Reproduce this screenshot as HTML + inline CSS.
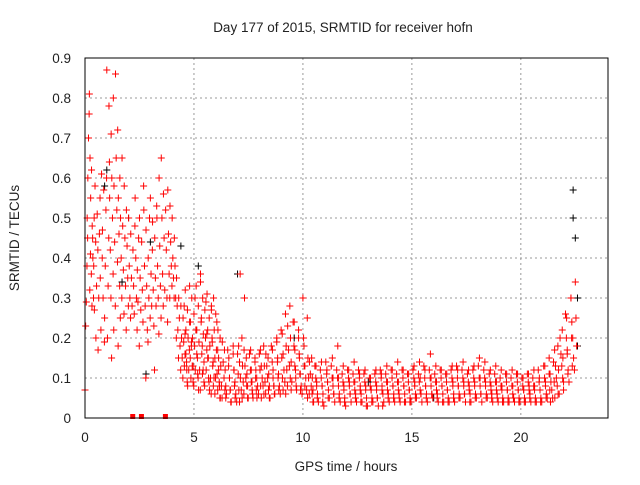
<!DOCTYPE html>
<html><head><meta charset="utf-8"><style>
html,body{margin:0;padding:0;background:#fff}
svg text{font-family:"Liberation Sans",sans-serif;font-size:13.5px;fill:#222}
</style></head><body>
<svg id="chart" width="640" height="480" viewBox="0 0 640 480">
<text x="343" y="32" text-anchor="middle">Day 177 of 2015, SRMTID for receiver hofn</text>
<text x="346" y="471" text-anchor="middle">GPS time / hours</text>
<text transform="translate(19,238) rotate(-90)" text-anchor="middle">SRMTID / TECUs</text>
<g id="grid"></g><g id="ticks"></g><g id="marks"></g>
<rect x="85" y="58" width="523" height="360" fill="none" stroke="#000" stroke-width="1"/>
</svg>
<script>
const xTicks=[0,5,10,15,20];
const yTicks=[0,0.1,0.2,0.3,0.4,0.5,0.6,0.7,0.8,0.9];
const redHours=[0,0.1,0.2,0.3,0.4,0.5,0.6,0.7,0.8,0.9,1.0,1.1,1.2,1.3,1.4,1.5,1.6,1.7,1.8,1.9,2.0,2.1,2.2,2.3,2.4,2.5,2.6,2.7,2.8,2.9,3.0,3.1,3.2,3.3,3.4,3.5,3.6,3.7,3.8,3.9,4.0,4.1,4.2,4.3,4.4,4.5,4.6,4.7,4.8,4.9,5.0,5.1,5.2,5.3,5.4,5.5,5.6,5.7,5.8,5.9,6.0,6.1,6.2,6.4,6.6,6.8,7.0,7.2,7.4,7.6,7.8,8.0,8.2,8.4,8.6,8.8,9.0,9.2,9.4,9.6,9.8,10.0,10.2,10.4,10.6,10.85,11.1,11.35,11.6,11.85,12.1,12.35,12.6,12.85,13.1,13.35,13.6,13.85,14.1,14.35,14.6,14.85,15.1,15.35,15.6,15.85,16.1,16.35,16.6,16.85,17.1,17.35,17.6,17.85,18.1,18.35,18.6,18.85,19.1,19.35,19.6,19.85,20.1,20.35,20.6,20.85,21.1,21.3,21.5,21.7,21.9,22.1,22.3,22.5];
const redValues=[[0.07,0.23,0.29,0.38,0.45],[0.5,0.6,0.7,0.76,0.32,0.41],[0.81,0.65,0.55,0.36,0.28,0.45],[0.62,0.48,0.4,0.3,0.5],[0.38,0.27,0.58,0.44],[0.2,0.33,0.51,0.42],[0.17,0.3,0.46,0.55],[0.35,0.22,0.61,0.4],[0.47,0.3,0.57,0.19],[0.25,0.38,0.52,0.6],[0.87,0.2,0.33,0.45,0.64],[0.78,0.55,0.42,0.3,0.15],[0.71,0.6,0.5,0.36,0.22],[0.8,0.58,0.44,0.28],[0.86,0.65,0.52,0.39,0.18],[0.72,0.55,0.46,0.33,0.25],[0.6,0.5,0.4,0.3],[0.65,0.48,0.37,0.26],[0.58,0.45,0.33,0.22],[0.52,0.43,0.35,0.28],[0.5,0.38,0.3,0.25],[0.46,0.35,0.28,0],[0.42,0.33,0.26,0.48],[0.55,0.4,0.3,0.22],[0.37,0.29,0.45,0.18],[0.5,0.35,0.27,0],[0.44,0.32,0.24,0.58],[0.52,0.38,0.28,0.1],[0.47,0.33,0.22,0.19],[0.4,0.3,0.5,0.25],[0.55,0.36,0.28,0.42],[0.49,0.32,0.23,0.12],[0.45,0.35,0.28,0.53],[0.5,0.38,0.3,0.21],[0.6,0.43,0.33,0.25],[0.65,0.5,0.36,0.28],[0.56,0.45,0.32,0],[0.52,0.42,0.3,0.24],[0.57,0.46,0.36,0.3],[0.53,0.44,0.38,0.33],[0.5,0.4,0.35,0.3],[0.45,0.38,0.3,0.2],[0.35,0.28,0.22,0.15],[0.3,0.25,0.18,0.12],[0.28,0.2,0.15,0.1],[0.25,0.19,0.13,0.16],[0.32,0.22,0.14,0.09],[0.27,0.2,0.12,0.17],[0.24,0.15,0.1,0.19],[0.3,0.2,0.13,0.08],[0.26,0.18,0.12,0.22],[0.33,0.22,0.15,0.1],[0.28,0.19,0.12,0.07],[0.36,0.24,0.16,0.11],[0.3,0.21,0.14,0.08],[0.27,0.2,0.12,0.17],[0.31,0.22,0.15,0.09],[0.25,0.18,0.1,0.06],[0.28,0.2,0.13,0.08],[0.3,0.22,0.15,0.1],[0.26,0.17,0.11,0.07],[0.22,0.15,0.09,0.05],[0.2,0.13,0.08,0.05],[0.17,0.12,0.08,0.06],[0.15,0.1,0.07,0.04],[0.18,0.12,0.08,0.05],[0.16,0.11,0.07,0.04,0.36],[0.2,0.13,0.09,0.06,0.3],[0.15,0.11,0.08,0.05],[0.17,0.12,0.09,0.06],[0.14,0.1,0.07,0.05],[0.16,0.12,0.08,0.05],[0.18,0.13,0.09,0.06],[0.15,0.11,0.08,0.05],[0.17,0.12,0.08,0.06],[0.19,0.14,0.1,0.07],[0.22,0.15,0.1,0.07],[0.26,0.18,0.12,0.08],[0.28,0.2,0.14,0.09],[0.24,0.17,0.12,0.08],[0.22,0.16,0.11,0.07],[0.3,0.2,0.13,0.08],[0.25,0.15,0.1,0.06],[0.15,0.1,0.07,0.04],[0.13,0.09,0.05],[0.14,0.08,0.04],[0.12,0.09,0.05],[0.15,0.1,0.06],[0.18,0.1,0.05],[0.13,0.08,0.04],[0.12,0.09,0.06],[0.14,0.09,0.05],[0.11,0.07,0.04],[0.12,0.08,0.03],[0.1,0.07,0.04],[0.12,0.08,0.05],[0.11,0.07,0.03],[0.13,0.09,0.05],[0.12,0.08,0.05],[0.14,0.09,0.06],[0.12,0.08,0.04],[0.11,0.07,0.04],[0.13,0.09,0.05],[0.14,0.1,0.06],[0.12,0.08,0.05],[0.16,0.1,0.06],[0.13,0.09,0.05],[0.12,0.08,0.04],[0.11,0.07,0.04],[0.13,0.09,0.05],[0.12,0.08,0.05],[0.14,0.09,0.06],[0.12,0.08,0.04],[0.13,0.09,0.05],[0.15,0.1,0.06],[0.14,0.09,0.05],[0.12,0.08,0.05],[0.13,0.09,0.06],[0.12,0.08,0.04],[0.11,0.07,0.04],[0.12,0.08,0.05],[0.11,0.07,0.04],[0.1,0.07,0.04],[0.11,0.08,0.05],[0.12,0.08,0.04],[0.1,0.07,0.04],[0.13,0.09,0.05],[0.11,0.07,0.04],[0.14,0.09,0.05],[0.18,0.12,0.06],[0.22,0.15,0.09],[0.25,0.17,0.11],[0.3,0.2,0.13],[0.34,0.25,0.18],[0.44,0.28,0.2]];
const denseHours=[4.55,4.8,5.05,5.3,5.55,5.8,6.05,6.3,6.55,6.8,7.05,7.3,7.55,7.8,8.05,8.3,8.55,8.8,9.05,9.3,9.55,9.8,10.05,10.3,10.55,10.8,11.05,11.3,11.55,11.8,12.05,12.3,12.55,12.8,13.05,13.3,13.55,13.8,14.05,14.3,14.55,14.8,15.05,15.3,15.55,15.8,16.05,16.3,16.55,16.8,17.05,17.3,17.55,17.8,18.05,18.3,18.55,18.8,19.05,19.3,19.55,19.8,20.05,20.3,20.55,20.8,21.05,21.3,21.55,21.8,22.05,22.3];
const denseValues=[[0.28,0.21,0.16,0.12,0.08],[0.33,0.24,0.18,0.13,0.09],[0.3,0.22,0.16,0.11,0.07],[0.34,0.25,0.18,0.12,0.09],[0.29,0.21,0.15,0.1,0.07],[0.27,0.19,0.14,0.1,0.06],[0.24,0.17,0.12,0.08,0.05],[0.19,0.14,0.1,0.07,0.05],[0.17,0.13,0.1,0.07,0.04],[0.16,0.12,0.09,0.06,0.04],[0.18,0.14,0.1,0.07,0.05],[0.17,0.13,0.1,0.08,0.05],[0.16,0.12,0.09,0.07,0.05],[0.15,0.12,0.1,0.08,0.06],[0.17,0.13,0.1,0.08,0.06],[0.16,0.13,0.1,0.07,0.05],[0.18,0.14,0.1,0.08,0.06],[0.2,0.15,0.11,0.08,0.06],[0.21,0.16,0.12,0.09,0.06],[0.23,0.17,0.13,0.1,0.07],[0.24,0.18,0.13,0.1,0.07],[0.2,0.15,0.11,0.08,0.06],[0.18,0.13,0.1,0.07,0.05],[0.14,0.11,0.08,0.06,0.04],[0.13,0.1,0.08,0.06,0.04],[0.12,0.1,0.08,0.06,0.03],[0.14,0.11,0.09,0.07,0.05],[0.13,0.1,0.08,0.06,0.04],[0.12,0.1,0.08,0.06,0.04],[0.11,0.09,0.07,0.05,0.03],[0.12,0.1,0.08,0.06,0.04],[0.11,0.09,0.07,0.06,0.04],[0.12,0.1,0.08,0.06,0.04],[0.11,0.09,0.07,0.05,0.03],[0.1,0.08,0.07,0.05,0.04],[0.11,0.09,0.07,0.05,0.03],[0.12,0.1,0.08,0.06,0.04],[0.11,0.09,0.07,0.06,0.04],[0.12,0.1,0.08,0.06,0.04],[0.11,0.09,0.07,0.05,0.04],[0.12,0.1,0.08,0.06,0.04],[0.11,0.09,0.07,0.05,0.04],[0.12,0.1,0.08,0.06,0.05],[0.11,0.09,0.07,0.06,0.04],[0.13,0.1,0.08,0.06,0.04],[0.12,0.1,0.08,0.06,0.05],[0.11,0.09,0.07,0.06,0.04],[0.12,0.1,0.08,0.06,0.04],[0.11,0.09,0.07,0.05,0.04],[0.12,0.1,0.08,0.06,0.04],[0.13,0.1,0.08,0.06,0.05],[0.12,0.1,0.08,0.06,0.04],[0.11,0.09,0.07,0.06,0.04],[0.12,0.1,0.08,0.06,0.05],[0.13,0.1,0.08,0.06,0.04],[0.12,0.1,0.08,0.06,0.05],[0.11,0.09,0.07,0.06,0.04],[0.11,0.09,0.07,0.05,0.04],[0.1,0.08,0.07,0.05,0.04],[0.11,0.09,0.07,0.05,0.04],[0.1,0.08,0.06,0.05,0.04],[0.11,0.09,0.07,0.05,0.04],[0.1,0.08,0.07,0.05,0.04],[0.11,0.09,0.07,0.06,0.04],[0.1,0.08,0.07,0.05,0.04],[0.12,0.09,0.07,0.05,0.04],[0.13,0.1,0.08,0.06,0.05],[0.15,0.11,0.09,0.07,0.05],[0.17,0.13,0.1,0.08,0.06],[0.2,0.16,0.13,0.1,0.07],[0.26,0.2,0.16,0.12,0.09],[0.3,0.24,0.2,0.15,0.12]];
const blackHours=[0.9,1.0,1.7,2.0,2.8,3.0,4.4,5.2,7.0,9.6,13.0,16.0,22.4,22.4,22.5,22.6,22.6];
const blackValues=[0.58,0.62,0.34,0.5,0.11,0.44,0.43,0.38,0.36,0.2,0.09,0.05,0.57,0.5,0.45,0.3,0.18];
const X0=85,X1=608,Y0=418,Y1=58;
const xs=h=>X0+h/24*(X1-X0);
const ys=v=>Y0-v/0.9*(Y0-Y1);
const NS='http://www.w3.org/2000/svg';
const g=document.getElementById('grid'),t=document.getElementById('ticks'),m=document.getElementById('marks');
function mk(tag,attrs,parent){const e=document.createElementNS(NS,tag);for(const k in attrs)e.setAttribute(k,attrs[k]);parent.appendChild(e);return e;}
xTicks.forEach(v=>{const x=xs(v);
 if(v>0){const l=mk('line',{x1:x,x2:x,y1:Y1,y2:Y0,stroke:'#999','stroke-dasharray':'2,3'},g);
 
 }
 const tx=mk('text',{x:x,y:442,'text-anchor':'middle'},t);tx.textContent=v;
 
 });
yTicks.forEach(v=>{const y=ys(v);
 if(v>0){const l=mk('line',{x1:X0,x2:X1,y1:y,y2:y,stroke:'#999','stroke-dasharray':'2,3'},g);
 
 }
 const tx=mk('text',{x:71,y:y+5,'text-anchor':'end'},t);tx.textContent=v;
 
 });
function plus(h,v,col){const x=xs(h),y=ys(v);
 if(v===0){const r=mk('rect',{x:x-2.5,y:y-4,width:5,height:5,fill:col},m);
  
  return;}
 const p=mk('path',{d:`M${x-3.5},${y}H${x+3.5}M${x},${y-3.5}V${y+3.5}`,stroke:col,'stroke-width':1,fill:'none'},m);
 
 }
blackHours.forEach((h,i)=>plus(h,blackValues[i],'#000'));
redHours.forEach((h,i)=>redValues[i].forEach((v,j)=>plus(h+j*0.03,v,'#f00')));
denseHours.forEach((h,i)=>denseValues[i].forEach((v,j)=>plus(h+j*0.04,v,'#f00')));
</script>
</body></html>
